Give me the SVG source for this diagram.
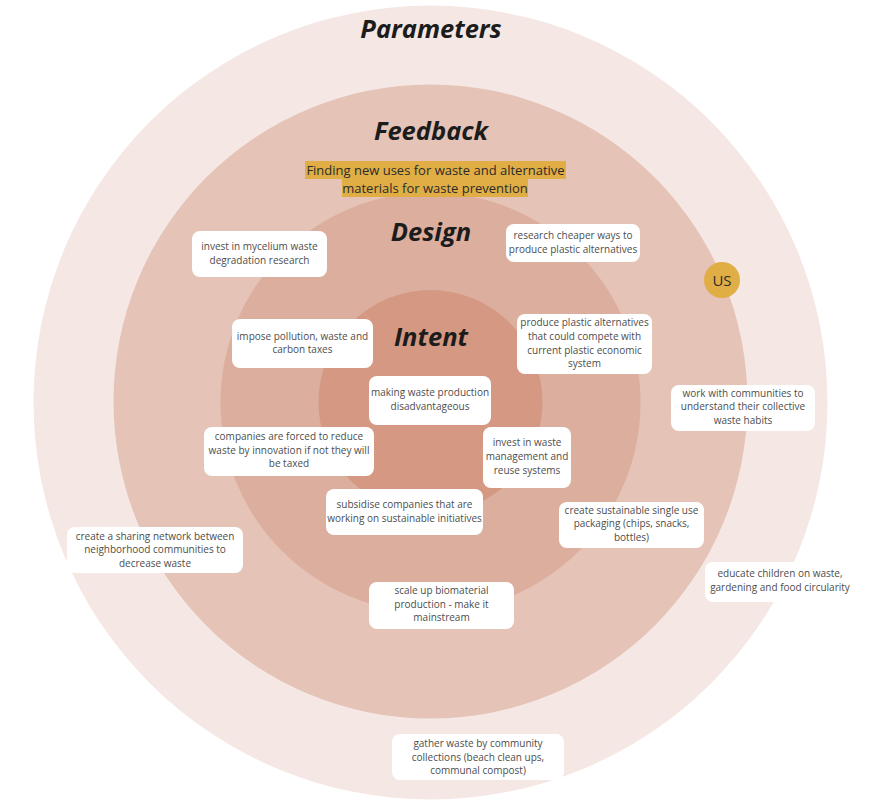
<svg xmlns="http://www.w3.org/2000/svg" width="874" height="808" viewBox="0 0 874 808">
<style>
.title{font-family:"Open Sans","Liberation Sans",sans-serif;font-weight:700;font-style:italic;font-size:25.5px;fill:#1c1c1c;text-anchor:middle}
.note rect{fill:#ffffff}
.note text{font-family:"Open Sans","Liberation Sans",sans-serif;font-size:10px;fill:#4d4d4d;text-anchor:middle}
.hl{fill:#e0ae45}
.hltext{font-family:"Open Sans","Liberation Sans",sans-serif;font-size:13px;fill:#2b2b2b;text-anchor:middle}
</style>
<rect width="874" height="808" fill="#ffffff"/>
<g id="rings">
<circle cx="430.5" cy="402.5" r="397" fill="#f5e8e4"/>
<circle cx="430.5" cy="401.5" r="317" fill="#e5c3b7"/>
<circle cx="430.5" cy="402.5" r="210" fill="#dcae9e"/>
<circle cx="430.5" cy="402" r="112" fill="#d49883"/>
</g>
<g id="titles">
<text class="title" x="431" y="38">Parameters</text>
<text class="title" x="431" y="140">Feedback</text>
<text class="title" x="431" y="241">Design</text>
<text class="title" x="431" y="346">Intent</text>
</g>
<g id="feedback-highlight">
<rect class="hl" x="305" y="161" width="261" height="18"/>
<rect class="hl" x="342" y="179" width="186" height="18"/>
<text class="hltext" x="435.5" y="175">Finding new uses for waste and alternative</text>
<text class="hltext" x="435" y="193">materials for waste prevention</text>
</g>
<g id="us">
<circle cx="722" cy="280" r="18" fill="#e0ae45"/>
<text x="722" y="286" font-family="'Open Sans','Liberation Sans',sans-serif" font-size="15" fill="#2b2b2b" text-anchor="middle">US</text>
</g>
<g id="connectors"></g>
<g id="n1" class="note"><rect x="192" y="231" width="135" height="46" rx="8"/><text x="259.5" y="250">invest in mycelium waste</text><text x="259.5" y="264">degradation research</text></g>
<g id="n2" class="note"><rect x="506" y="224" width="134" height="38" rx="8"/><text x="573" y="239">research cheaper ways to</text><text x="573" y="253">produce plastic alternatives</text></g>
<g id="n3" class="note"><rect x="232" y="319" width="141" height="49" rx="8"/><text x="302.5" y="340">impose pollution, waste and</text><text x="302.5" y="353">carbon taxes</text></g>
<g id="n4" class="note"><rect x="517" y="314" width="135" height="60" rx="8"/><text x="584.5" y="326">produce plastic alternatives</text><text x="584.5" y="340">that could compete with</text><text x="584.5" y="354">current plastic economic</text><text x="584.5" y="367">system</text></g>
<g id="n5" class="note"><rect x="369" y="376" width="122" height="49" rx="8"/><text x="430" y="396">making waste production</text><text x="430" y="410">disadvantageous</text></g>
<g id="n6" class="note"><rect x="204" y="427" width="170" height="49" rx="8"/><text x="289" y="440">companies are forced to reduce</text><text x="289" y="454">waste by innovation if not they will</text><text x="289" y="467">be taxed</text></g>
<g id="n7" class="note"><rect x="483" y="427" width="88" height="61" rx="8"/><text x="527" y="446">invest in waste</text><text x="527" y="460">management and</text><text x="527" y="474">reuse systems</text></g>
<g id="n8" class="note"><rect x="326" y="489" width="157" height="46" rx="8"/><text x="404.5" y="508">subsidise companies that are</text><text x="404.5" y="522">working on sustainable initiatives</text></g>
<g id="n9" class="note"><rect x="67" y="527" width="176" height="46" rx="8"/><text x="155" y="540">create a sharing network between</text><text x="155" y="553">neighborhood communities to</text><text x="155" y="567">decrease waste</text></g>
<g id="n10" class="note"><rect x="369" y="582" width="145" height="47" rx="8"/><text x="441.5" y="594">scale up biomaterial</text><text x="441.5" y="608">production - make it</text><text x="441.5" y="621">mainstream</text></g>
<g id="n11" class="note"><rect x="559" y="502" width="145" height="46" rx="8"/><text x="631.5" y="514">create sustainable single use</text><text x="631.5" y="527">packaging (chips, snacks,</text><text x="631.5" y="541">bottles)</text></g>
<g id="n12" class="note"><rect x="671" y="385" width="144" height="46" rx="8"/><text x="743" y="397">work with communities to</text><text x="743" y="410">understand their collective</text><text x="743" y="424">waste habits</text></g>
<g id="n13" class="note"><rect x="705" y="562" width="157" height="40" rx="8"/><text x="780" y="577">educate children on waste,</text><text x="780" y="591">gardening and food circularity</text></g>
<g id="n14" class="note"><rect x="392" y="734" width="172" height="46" rx="8"/><text x="478" y="747">gather waste by community</text><text x="478" y="761">collections (beach clean ups,</text><text x="478" y="774">communal compost)</text></g>
</svg>
